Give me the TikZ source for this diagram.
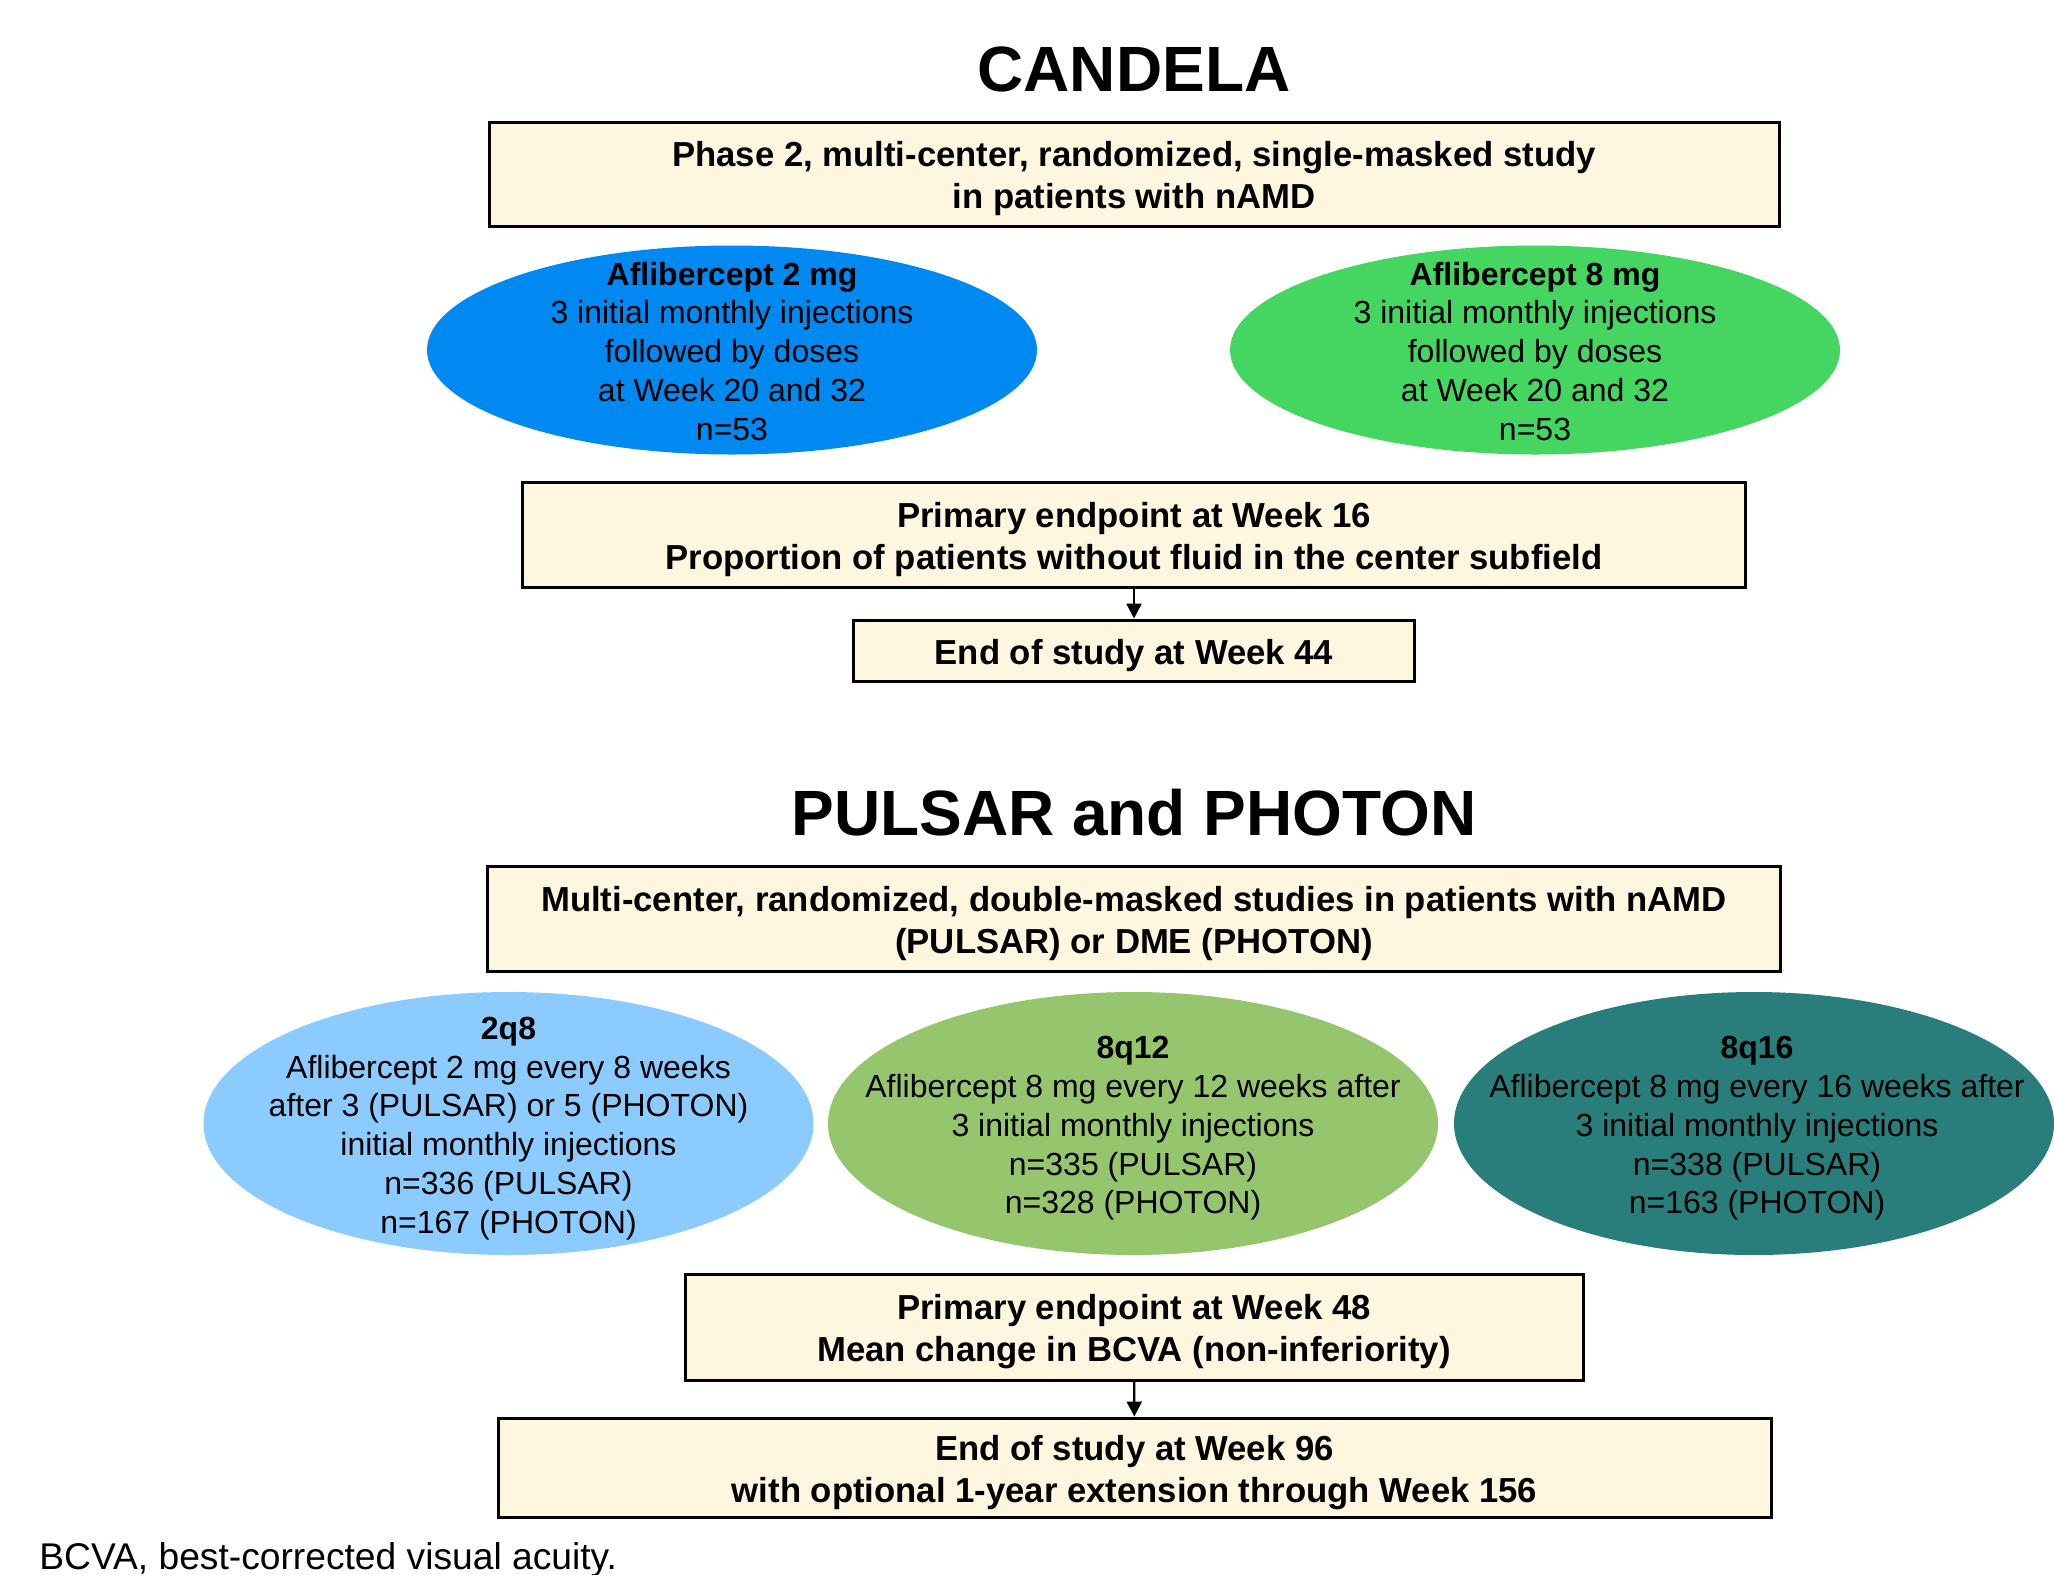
\documentclass[tikz,border=0pt]{standalone}
\usepackage{fontspec}
\setmainfont{Liberation Sans}
\usepackage{xcolor}
\usetikzlibrary{arrows.meta,shapes.geometric}

\definecolor{boxcream}{HTML}{FFF6E0}
\definecolor{blueTwo}{HTML}{0089F0}
\definecolor{greenEight}{HTML}{44D660}
\definecolor{skyTwo}{HTML}{8BCBFF}
\definecolor{leafTwelve}{HTML}{95C56C}
\definecolor{tealSixteen}{HTML}{297D7A}

\newcommand{\boxfont}{\bfseries\fontsize{17.35}{21}\selectfont}
\newcommand{\ovalfont}{\fontsize{16}{19.4}\selectfont}
\newcommand{\headfont}{\bfseries\fontsize{32}{38}\selectfont}
\newcommand{\notefont}{\fontsize{18.6}{22}\selectfont}
\newcommand{\bstrut}{\rule{0pt}{17.5pt}}

\tikzset{
  studybox/.style={draw=black,line width=1.5pt,fill=boxcream,inner sep=0pt,align=center,font=\boxfont},
  armoval/.style={ellipse,draw=none,inner sep=0pt},
  ovaltext/.style={align=center,font=\ovalfont,inner sep=0pt},
  headtext/.style={font=\headfont,anchor=base,inner sep=0pt},
  arr/.style={-{Triangle[length=7.5pt,width=7.5pt]},line width=1.2pt}
}

\begin{document}
\begin{tikzpicture}[x=0.5pt,y=-0.5pt]
\useasboundingbox (0,0) rectangle (2054,1574);
\clip (0,0) rectangle (2054,1574);

% CANDELA
\node[headtext] (candela) at (1134,91) {CANDELA};
\node[studybox,minimum width=645pt,minimum height=52pt] (design1) at (1134,174)
  {\bstrut Phase 2, multi-center, randomized, single-masked study\\in patients with nAMD};
\node[armoval,fill=blueTwo,minimum width=305pt,minimum height=104.5pt] (afl2) at (732,350) {};
\node[ovaltext] (afl2txt) at ([yshift=-0.6pt]afl2.center)
  {\textbf{Aflibercept 2 mg}\\3 initial monthly injections\\followed by doses\\at Week 20 and 32\\n=53};
\node[armoval,fill=greenEight,minimum width=305pt,minimum height=104.5pt] (afl8) at (1535,350) {};
\node[ovaltext] (afl8txt) at ([yshift=-0.6pt]afl8.center)
  {\textbf{Aflibercept 8 mg}\\3 initial monthly injections\\followed by doses\\at Week 20 and 32\\n=53};
\node[studybox,minimum width=611.5pt,minimum height=52.5pt] (prim16) at (1134,534.5)
  {\bstrut Primary endpoint at Week 16\\Proportion of patients without fluid in the center subfield};
\node[studybox,minimum width=280.5pt,minimum height=30.5pt] (end44) at (1134,650.5)
  {\bstrut End of study at Week 44};
\draw[arr] (prim16) -- (end44);

% PULSAR and PHOTON
\node[headtext] (pulsar) at (1134,835) {PULSAR and PHOTON};
\node[studybox,minimum width=646.5pt,minimum height=52.5pt] (design2) at (1134,918.5)
  {\bstrut Multi-center, randomized, double-masked studies in patients with nAMD\\(PULSAR) or DME (PHOTON)};
\node[armoval,fill=skyTwo,minimum width=305pt,minimum height=131.5pt] (q8) at (508.5,1123.5) {};
\node[ovaltext] (q8txt) at ([yshift=-2.5pt]q8.center)
  {\textbf{2q8}\\Aflibercept 2 mg every 8 weeks\\after 3 (PULSAR) or 5 (PHOTON)\\initial monthly injections\\n=336 (PULSAR)\\n=167 (PHOTON)};
\node[armoval,fill=leafTwelve,minimum width=305pt,minimum height=131.5pt] (q12) at (1133,1123.5) {};
\node[ovaltext] (q12txt) at ([yshift=-2.5pt]q12.center)
  {\textbf{8q12}\\Aflibercept 8 mg every 12 weeks after\\3 initial monthly injections\\n=335 (PULSAR)\\n=328 (PHOTON)};
\node[armoval,fill=tealSixteen,minimum width=300pt,minimum height=131.5pt] (q16) at (1754,1123.5) {};
\node[ovaltext] (q16txt) at ([xshift=1.5pt,yshift=-2.5pt]q16.center)
  {\textbf{8q16}\\Aflibercept 8 mg every 16 weeks after\\3 initial monthly injections\\n=338 (PULSAR)\\n=163 (PHOTON)};
\node[studybox,minimum width=449pt,minimum height=53pt] (prim48) at (1134,1327)
  {\bstrut Primary endpoint at Week 48\\Mean change in BCVA (non-inferiority)};
\node[studybox,minimum width=636.5pt,minimum height=49.5pt] (end96) at (1134.5,1467.5)
  {\bstrut End of study at Week 96\\with optional 1-year extension through Week 156};
\draw[arr] (prim48) -- (end96);

\node[font=\notefont,anchor=base west,inner sep=0pt] (note) at (39,1569)
  {BCVA, best-corrected visual acuity.};
\end{tikzpicture}
\end{document}
